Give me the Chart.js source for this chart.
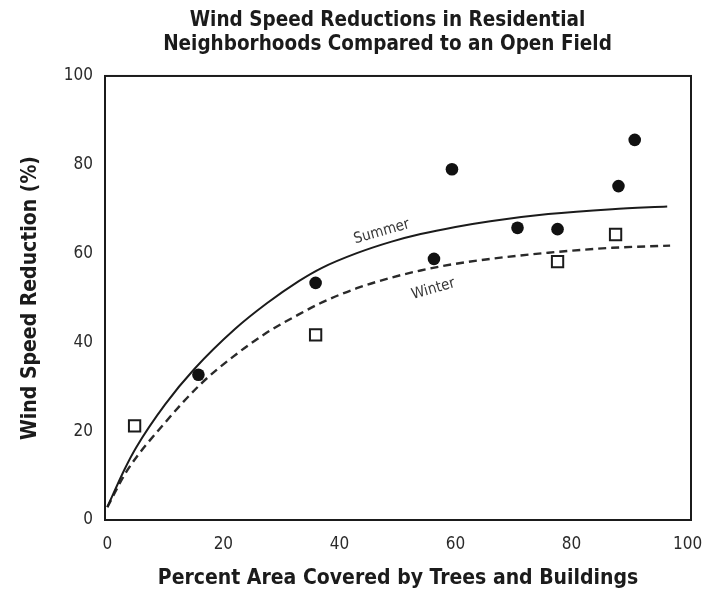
<!DOCTYPE html>
<html>
<head>
<meta charset="utf-8">
<script src="https://cdn.jsdelivr.net/npm/chart.js@4/dist/chart.umd.min.js"></script>
<style>
  html, body { margin: 0; padding: 0; background: #fff; }
  #wrap { width: 720px; height: 592px; }
</style>
</head>
<body>
<div id="wrap"><canvas id="c" width="720" height="592"></canvas></div>
<script>
// Fitted trend curves (percent area covered vs. wind speed reduction)
const summerCurveX = [0, 3, 5, 10, 15, 22, 27.5, 33, 37, 43, 49, 54, 60, 66, 76, 87, 96.5];
const summerCurveY = [2.9, 11.5, 16.4, 26.1, 34.0, 43.0, 48.8, 53.8, 56.8, 60.1, 62.7, 64.4, 66.0, 67.3, 68.9, 70.0, 70.6];
const winterCurveX = [0, 3.4, 10, 16, 21.7, 27.5, 33, 37, 43, 49, 54, 60, 66, 76, 87, 97];
const winterCurveY = [2.9, 11.1, 22, 30.5, 36.8, 42.2, 46.3, 49.0, 52.2, 54.6, 56.2, 57.7, 58.8, 60.2, 61.3, 61.8];

// Measured neighborhoods
const summerObsX = [15.7, 35.9, 56.3, 59.4, 70.7, 77.6, 88.1, 90.9];
const summerObsY = [32.7, 53.4, 58.8, 79.0, 65.8, 65.5, 75.2, 85.6];
const winterObsX = [4.7, 35.9, 77.6, 87.6];
const winterObsY = [21.2, 41.7, 58.2, 64.3];

const xTicks = [0, 20, 40, 60, 80, 100];
const yTicks = [0, 20, 40, 60, 80, 100];

const titleLines = ['Wind Speed Reductions in Residential', 'Neighborhoods Compared to an Open Field'];
const xTitle = 'Percent Area Covered by Trees and Buildings';
const yTitle = 'Wind Speed Reduction (%)';
const curveLabels = [
  { text: 'Summer', x: 47.3, y: 64.9, angle: -16 },
  { text: 'Winter', x: 56.2, y: 52.0, angle: -16 }
];

const FAMILY = '"Liberation Sans Narrow", "DejaVu Sans Condensed", "Roboto Condensed", sans-serif';
const INK = '#1b1b1b';

const pts = (xs, ys) => xs.map((x, i) => ({ x, y: ys[i] }));

// Box around the plotting area
const framePlugin = {
  id: 'frame',
  afterDatasetsDraw(chart) {
    const { ctx, chartArea: a } = chart;
    ctx.save();
    ctx.strokeStyle = INK;
    ctx.lineWidth = 2;
    ctx.strokeRect(a.left, a.top, a.right - a.left, a.bottom - a.top);
    ctx.restore();
  }
};

// Season names written along each curve
const curveLabelPlugin = {
  id: 'curveLabels',
  afterDatasetsDraw(chart) {
    const { ctx, scales } = chart;
    ctx.save();
    ctx.fillStyle = '#383838';
    ctx.font = '15px ' + FAMILY;
    ctx.textAlign = 'center';
    ctx.textBaseline = 'middle';
    curveLabels.forEach(l => {
      const px = scales.x.getPixelForValue(l.x);
      const py = scales.y.getPixelForValue(l.y);
      ctx.save();
      ctx.translate(px, py);
      ctx.rotate(l.angle * Math.PI / 180);
      ctx.fillText(l.text, 0, 0);
      ctx.restore();
    });
    ctx.restore();
  }
};

new Chart(document.getElementById('c'), {
  type: 'scatter',
  data: {
    datasets: [
      {
        label: 'Summer curve',
        data: pts(summerCurveX, summerCurveY),
        showLine: true,
        borderColor: INK,
        borderWidth: 2,
        pointRadius: 0,
        cubicInterpolationMode: 'monotone',
        fill: false
      },
      {
        label: 'Winter curve',
        data: pts(winterCurveX, winterCurveY),
        showLine: true,
        borderColor: '#2a2a2a',
        borderWidth: 2.4,
        borderDash: [8, 5],
        pointRadius: 0,
        cubicInterpolationMode: 'monotone',
        fill: false
      },
      {
        label: 'Summer',
        data: pts(summerObsX, summerObsY),
        pointStyle: 'circle',
        pointRadius: 6.3,
        backgroundColor: '#111',
        borderColor: '#111',
        borderWidth: 0
      },
      {
        label: 'Winter',
        data: pts(winterObsX, winterObsY),
        pointStyle: 'rect',
        pointRadius: 8,
        backgroundColor: '#fff',
        borderColor: INK,
        borderWidth: 2
      }
    ]
  },
  options: {
    responsive: false,
    animation: false,
    layout: { padding: { left: 55, right: 0, top: 0, bottom: 0 } },
    plugins: {
      legend: { display: false },
      tooltip: { enabled: false },
      title: {
        display: true,
        text: titleLines,
        color: INK,
        font: { family: FAMILY, size: 20.5, weight: 'bold', lineHeight: 1.17 },
        padding: { top: 9, bottom: 19 }
      }
    },
    scales: {
      x: {
        type: 'linear',
        min: -0.4,
        max: 100.6,
        afterBuildTicks: s => { s.ticks = xTicks.map(v => ({ value: v })); },
        afterFit: s => { s.height = 72; },
        grid: { display: false, drawTicks: false },
        border: { display: false },
        ticks: { color: '#2a2a2a', padding: 14, font: { family: FAMILY, size: 17 } },
        title: {
          display: true,
          text: xTitle,
          color: INK,
          font: { family: FAMILY, size: 21, weight: 'bold', lineHeight: 1.2 },
          padding: { top: 0, bottom: 1 }
        }
      },
      y: {
        type: 'linear',
        min: 0,
        max: 100,
        afterBuildTicks: s => { s.ticks = yTicks.map(v => ({ value: v })); },
        afterFit: s => { s.width = 50; },
        grid: { display: false, drawTicks: false },
        border: { display: false },
        ticks: { color: '#2a2a2a', padding: 12, font: { family: FAMILY, size: 17 } },
        title: {
          display: true,
          text: yTitle,
          color: INK,
          font: { family: FAMILY, size: 21, weight: 'bold', lineHeight: 1.2 },
          padding: { top: -37, bottom: 0 }
        }
      },
      // empty margin on the right of the plot
      yRight: {
        type: 'linear',
        position: 'right',
        min: 0,
        max: 100,
        afterFit: s => { s.width = 29; },
        grid: { display: false, drawTicks: false },
        border: { display: false },
        ticks: { display: false }
      }
    }
  },
  plugins: [framePlugin, curveLabelPlugin]
});
</script>
</body>
</html>
